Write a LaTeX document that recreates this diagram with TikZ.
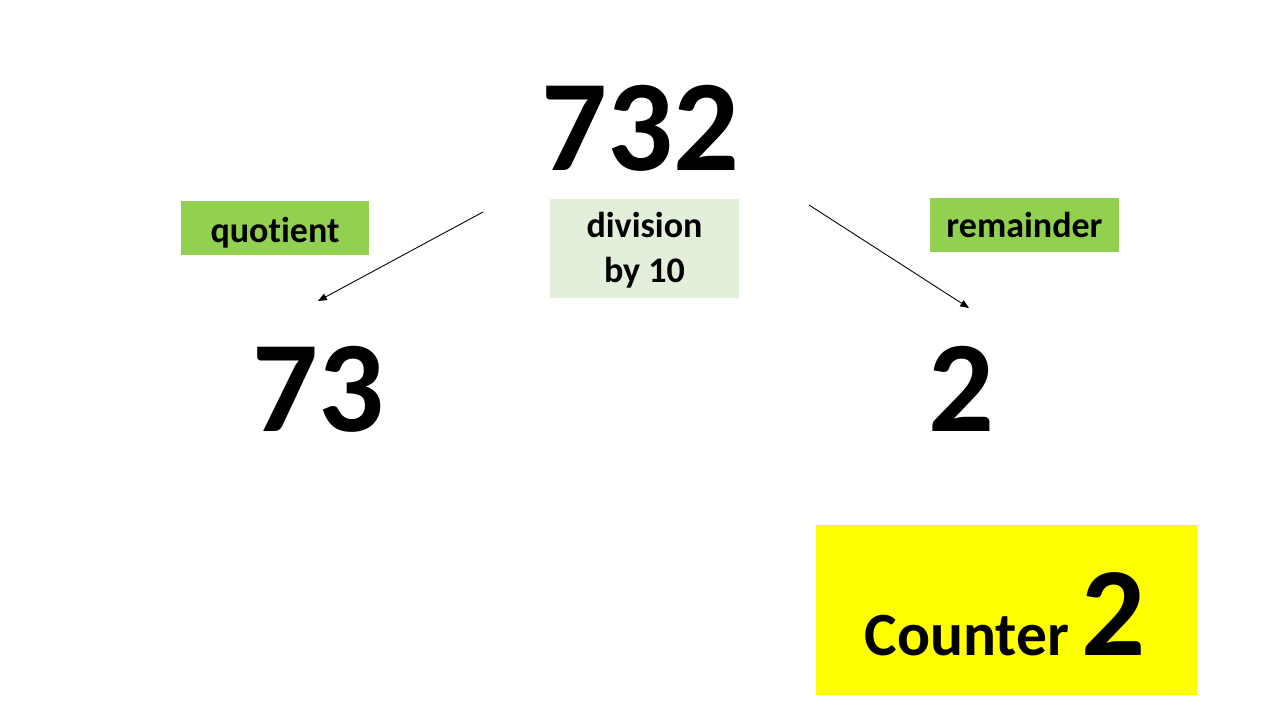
\documentclass[tikz,border=0pt]{standalone}
\usepackage{fontspec}
\setmainfont{Carlito}[Ligatures=NoCommon]
\usetikzlibrary{arrows.meta}
\usetikzlibrary{positioning}
\definecolor{tagGreen}{HTML}{92D050}
\definecolor{paleGreen}{HTML}{E2EFDA}
\definecolor{counterYellow}{HTML}{FFFF00}

\begin{document}
\begin{tikzpicture}[x=0.02cm, y=-0.02cm]
	\useasboundingbox (0,0) rectangle (1280,720);
	\begin{scope}[every node/.style={font=\bfseries\fontsize{74}{80}\selectfont, inner sep=0pt}]
	    	\node (whole) 	at (640,128) {732};
	    	\node (quot) 	at (318,389) {73};
	    	\node (rem) 	at (961,389) {2};
	\end{scope}
	\begin{scope}[every node/.style={rectangle, inner sep=0pt, align=center,
	              font=\bfseries\fontsize{20.5}{26}\selectfont,
	              minimum width=3.78cm, text depth=0.04cm}]
	    	\node[fill=tagGreen, minimum height=1.08cm, text height=0.6cm] 	(quotTag) at (275,228) {quotient};
	    	\node[fill=tagGreen, minimum height=1.08cm, text height=0.54cm] 	(remTag) at (1024.5,225) {remainder};
	    	\node[fill=paleGreen, minimum height=1.98cm, text height=1.42cm] 	(divTag) at (644.5,248.5) {division\\by 10};
	\end{scope}
	\node[fill=counterYellow, minimum width=7.62cm, minimum height=3.4cm, inner sep=0pt] (counter) at (1006.5,610) {};
	\node[inner sep=0pt, anchor=base] (counterText) at (1005,655)
		{\bfseries\fontsize{35}{40}\selectfont Counter\hspace{0.2em}\fontsize{72}{80}\selectfont 2};
	% arrows from the number to its parts
	\coordinate (quotStart) at (483,212);
	\coordinate (quotEnd) 	at (318,301);
	\coordinate (remStart) 	at (809,205);
	\coordinate (remEnd) 	at (969,308);
	\begin{scope}[>={Triangle[length=5pt, width=4pt]}, line width=0.5pt]
		\draw[->] (quotStart) -- (quotEnd);
		\draw[->] (remStart) -- (remEnd);
	\end{scope}
\end{tikzpicture}
\end{document}
